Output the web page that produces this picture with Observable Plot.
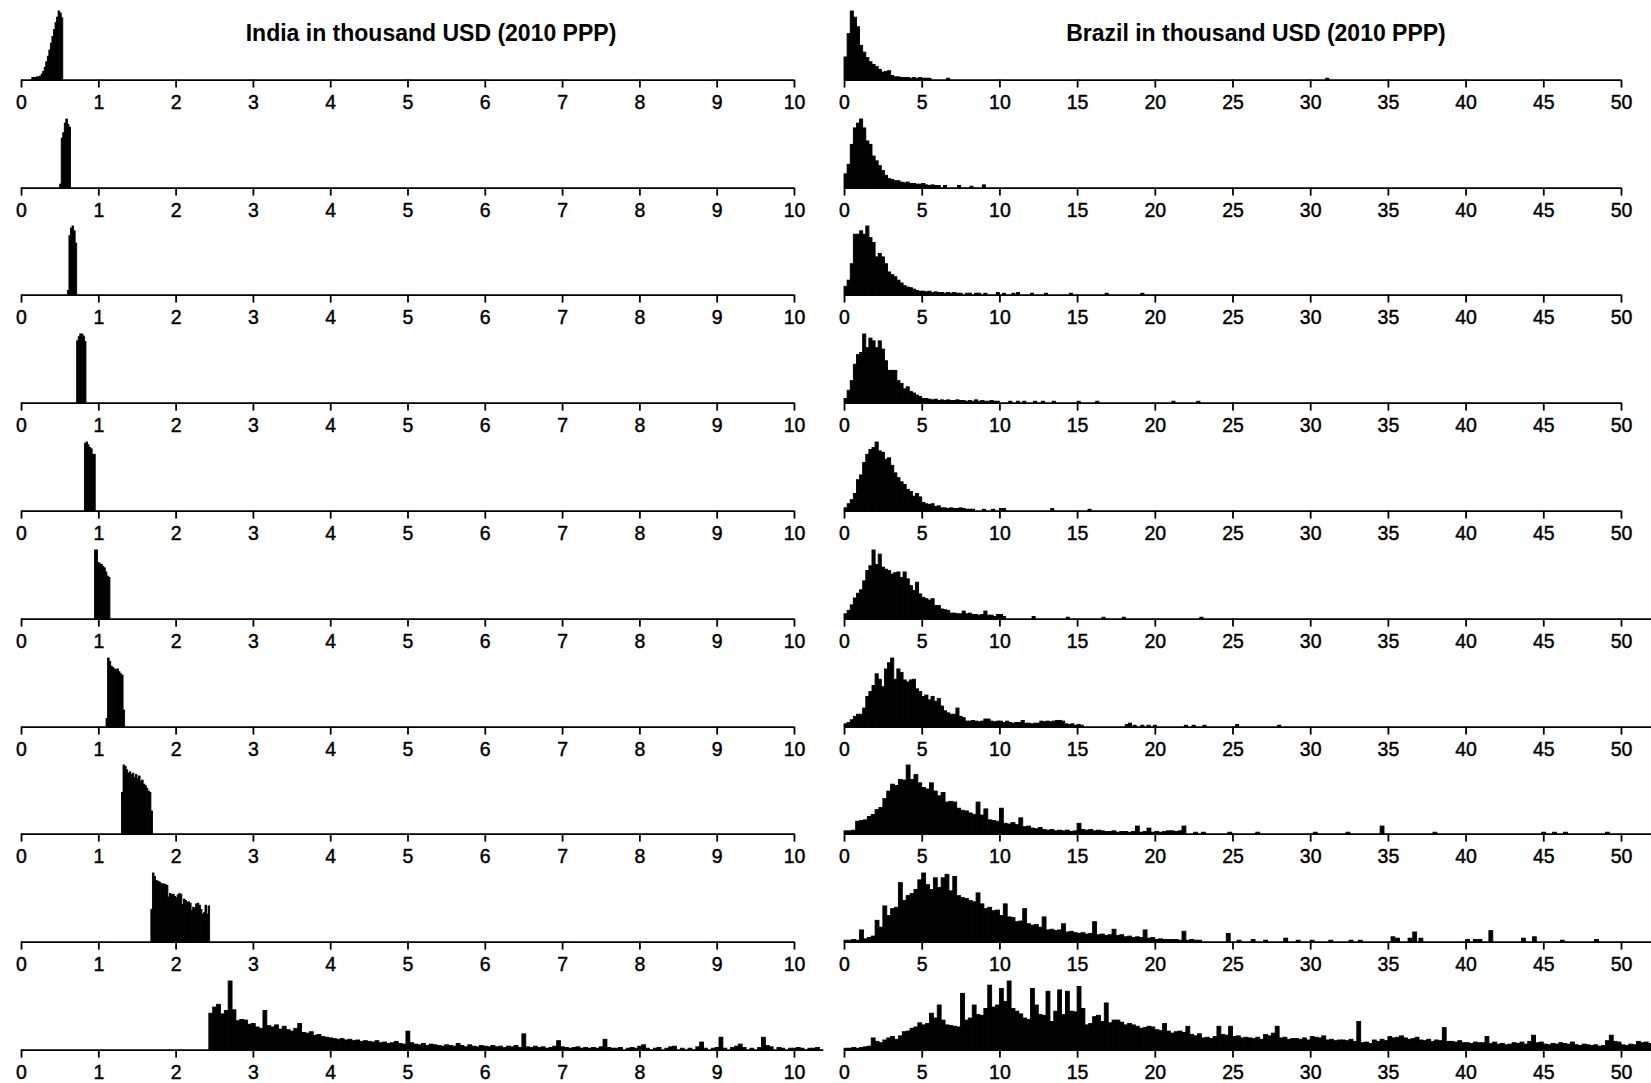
<!DOCTYPE html>
<html><head><meta charset="utf-8">
<script src="https://cdn.jsdelivr.net/npm/d3@7"></script>
<script src="https://cdn.jsdelivr.net/npm/@observablehq/plot@0.6"></script>
<style>
body{margin:0;background:#fff;}
#root{position:relative;width:1651px;height:1083px;overflow:hidden;font-family:"Liberation Sans",Arial,sans-serif;background:#fff;}
.title{position:absolute;width:600px;text-align:center;font-weight:bold;font-size:23px;line-height:23px;color:#000;white-space:nowrap;}
.panel{position:absolute;}
</style></head><body><div id="root"></div>
<script>
// ---------- text ----------
const titles = ["India in thousand USD (2010 PPP)", "Brazil in thousand USD (2010 PPP)"];
const indiaTicks = [0,1,2,3,4,5,6,7,8,9,10];
const brazilTicks = [0,5,10,15,20,25,30,35,40,45,50];

// ---------- India deciles (bar heights in % of each panel's tallest bar) ----------
const indiaStart = [0.14, 0.50, 0.60, 0.72, 0.82, 0.95, 1.10, 1.30, 1.68, 2.43];
const indiaBin = [0.02, 0.02, 0.02, 0.02, 0.02, 0.02, 0.02, 0.02, 0.02, 0.05];
const indiaLineEnd = [10, 10, 10, 10, 10, 10, 10, 10, 10, 10.38];
const india1 = [3,3,3,4,4,5,8,12,18,26,34,43,53,63,73,83,91,100,97,90];
const india2 = [5,72,80,94,100,92,88];
const india3 = [6,86,97,100,93,75];
const india4 = [90,96,100,100,97,89];
const india5 = [98,100,96,92,90,82,82];
const india6 = [100,100,82,80,79,76,74,68,62,60];
const india7 = [12,100,95,88,86,84,83,84,80,77,75,24];
const india8 = [60,100,98,93,88,90,86,88,82,86,80,84,76,78,72,70,66,62,60,33];
const india9 = [47,100,95,89,88,87,85,84,84,83,82,65,70,68,69,66,64,68,70,69,54,62,60,57,58,56,45,50,49,55,56,53,47,40,42,53,40,52];
const india10 = [53,62,66,52,57,100,58,42,44,43,37,38,33,31,57,35,33,36,30,34,29,27,31,38,25,24,26,21,22,19,18,17,16,15,16,14,15,13,14,12,13,12,11,13,10,11,9,10,12,9,8,27,10,8,7,9,6,8,7,6,5,7,6,5,9,6,4,7,5,4,6,5,4,6,4,5,3,5,4,6,3,23,4,3,5,3,4,2,3,5,13,4,3,2,3,4,2,3,2,3,2,4,15,3,2,2,3,0,2,3,2,5,7,2,0,2,3,0,2,4,5,0,2,0,2,0,4,11,2,0,2,3,18,2,0,3,5,8,3,0,2,0,3,18,6,4,0,3,2,0,2,2,3,2,0,2,2,3,0];

// ---------- Brazil deciles ----------
const brazilBin = [0.2, 0.2, 0.2, 0.2, 0.2, 0.2, 0.2, 0.25, 0.25, 0.25];
const brazilLineEnd = [50, 50, 50, 50, 50, 53, 53, 53, 53, 53];
const brazil1 = [33,67,100,91,77,50,40,32,26,22,19,15,11,12,13,6,4,4,3,3,3,2,3,2,3,2,2,2];
const brazilTail1 = [[6.6,2],[31.0,2]];
const brazil2 = [20,34,63,87,94,100,87,68,63,46,39,32,25,18,13,12,10,10,8,7,8,6,6,5,5,6,4,3,4,3,3];
const brazilTail2 = [[6.4,3],[7.3,3],[8.1,2],[8.9,4]];
const brazil3 = [12,21,45,88,88,93,88,100,83,76,55,60,55,45,33,29,26,21,17,13,11,10,8,6,5,5,4,5,3,4,3,3,2,3,2,3,2,2,0,2,2,0,2,2,0,2];
const brazilTail3 = [[9.8,3],[10.2,2],[10.8,2],[11.1,3],[12.0,2],[12.9,2],[14.5,2],[16.8,2],[19.1,2]];
const brazil4 = [6,18,32,56,70,73,100,80,94,90,80,90,78,61,47,47,47,32,28,20,23,16,14,11,9,6,6,5,4,5,3,4,3,4,3,3,4,3,3,2,3,2,4,2,3,2,2,3,2,2];
const brazilTail4 = [[10.6,2],[11.1,2],[11.5,2],[12.2,2],[12.7,2],[13.4,2],[15.0,2],[16.2,2],[21.1,2],[22.7,2]];
const brazil5 = [4,10,16,25,45,52,70,82,89,92,100,87,85,75,77,66,55,48,42,38,31,28,21,25,20,12,10,9,10,6,7,4,4,3,4,3,3,4,3,2,2,2];
const brazilTail5 = [[8.9,2],[9.5,2],[10.0,3],[10.2,3],[13.3,3],[15.7,2]];
const brazil6 = [7,12,20,30,37,42,55,70,77,100,79,94,75,72,70,65,67,68,60,68,58,48,41,53,36,31,29,27,29,19,19,14,13,12,8,8,7,7,11,7,8,6,6,5,6,11,5,5,3,6,6,3];
const brazilTail6 = [[12.1,3],[14.3,2],[16.6,2],[17.9,2],[22.9,2]];
const brazil7 = [4,6,10,15,18,18,27,44,51,60,77,69,58,84,93,100,69,84,79,68,65,68,69,55,51,44,46,39,44,37,41,30,23,20,18,18,27,15,13,8,8,9,8,7,8,11,11,8,7,8,8,6,8,6,5,6,6,9,5,5,4,5,5,8,7,8,7,8,9,9,8,4,3,4,2];
const brazilTail7 = [[15.0,3],[15.2,2],[18.1,3],[18.3,5],[18.6,2],[19.1,2],[19.5,2],[19.9,2],[21.9,2],[22.4,2],[23.1,2],[25.2,3],[27.9,2]];
const brazil8 = [4,4,5,18, 19,20,25,28, 35,38,51,62, 72,70,79,78, 100,79,86,74, 67,65,74,62, 55,60,46,47, 46,37,34,33, 30,28,46,27, 36,20,19,18, 37,15,14,16, 13,23,10,11, 8,7,9,6, 5,6,4,5, 4,5,3,4, 15,6,5,6, 4,5,4,3, 3,4,2,3, 3,2,3,11, 2,3,8,2, 3,2,3,4, 4,3,4,11];
const brazilTail8 = [[22.5,2],[23.0,2],[24.7,2],[26.5,2],[30.2,2],[32.3,2],[34.5,11],[37.9,2],[44.9,2],[45.6,2],[46.3,2],[49.0,2]];
const brazil9 = [2,2,3,2, 17,4,6,8, 31,21,52,38, 48,50,86,60, 67,70,76,90, 100,83,76,93, 79,93,98,74, 95,67,64,63, 60,58,71,55, 48,50,45,46, 38,55,36,35, 29,30,48,26, 24,25,21,36, 17,18,16,17, 26,14,15,13, 12,13,11,12, 29,10,11,9, 10,18,9,10, 7,8,6,7, 6,17,5,6, 3,4,3,3, 3,3,2,15, 2,3,2,2];
const brazilTail9 = [[24.6,12],[25.3,2],[26.2,3],[27.0,2],[28.3,5],[29.1,2],[30.0,2],[31.2,2],[32.5,2],[33.1,2],[35.2,7],[35.5,5],[36.3,5],[36.6,14],[37.0,5],[40.0,3],[40.5,3],[40.8,3],[41.5,16],[43.6,5],[44.3,7],[46.1,2],[48.3,3]];
const brazil10 = [2,2,3,2, 3,4,5,17, 12,10,14,17, 19,15,20,26, 27,31,33,39, 36,38,53,46, 65,43,36,35, 34,33,82,43, 46,65,51,50, 60,94,62,65, 89,70,100,60, 56,52,46,44, 89,65,51,50, 85,41,56,87, 51,85,56,55, 92,60,36,38, 48,50,41,68, 39,43,43,40, 36,38,36,34, 31,32,34,33, 29,28,38,27, 24,26,27,25, 34,22,20,23, 17,18,16,19, 34,22,21,34, 19,20,17,18, 17,16,18,15, 22,20,24,34, 17,18,15,16, 16,15,17,14, 19,18,17,20, 14,15,13,14, 14,13,15,12, 41,10,11,9, 14,12,15,13, 19,17,18,20, 17,15,16,18, 14,13,15,12, 14,13,32,12, 12,11,13,10, 10,9,11,10, 10,19,9,11, 8,9,7,8, 10,9,11,8, 12,21,10,11, 8,7,9,8, 10,9,8,11, 7,6,8,7, 6,7,5,6, 13,21,12,11, 7,6,8,7, 12,10,11,9];
const brazilTail10 = [];

const indiaRows = [india1,india2,india3,india4,india5,india6,india7,india8,india9,india10];
const brazilRows = [brazil1,brazil2,brazil3,brazil4,brazil5,brazil6,brazil7,brazil8,brazil9,brazil10];
const brazilTails = [brazilTail1,brazilTail2,brazilTail3,brazilTail4,brazilTail5,brazilTail6,brazilTail7,brazilTail8,brazilTail9,brazilTail10];

// ---------- layout ----------
const root = document.getElementById("root");
const AXIS0 = 79.3, ROW = 107.8, BARH = 68.6, MT = 6, MB = 34;
const FONT = '"Liberation Sans", Arial, sans-serif';

function addTitle(text, cx) {
  const d = document.createElement("div");
  d.className = "title";
  d.textContent = text;
  d.style.left = (cx - 300) + "px";
  d.style.top = "22px";
  root.appendChild(d);
}
addTitle(titles[0], 431);
addTitle(titles[1], 1256);

function panel(r, heights, tail, start, bw, lineEnd, domain, ticks, left, width, mL, mR) {
  const bars = heights.map((h, i) => ({x1: start + i * bw, x2: start + (i + 1) * bw, h}))
    .concat(tail.map(([x, h]) => ({x1: x, x2: x + bw, h})))
    .filter(d => d.h > 0);
  const svg = Plot.plot({
    width, height: MT + BARH + MB,
    marginTop: MT, marginBottom: MB, marginLeft: mL, marginRight: mR,
    x: {domain},
    y: {domain: [0, 100], axis: null},
    style: {background: "transparent", overflow: "visible", fontFamily: FONT, color: "black"},
    marks: [
      Plot.rect(bars, {x1: "x1", x2: "x2", y1: 0, y2: "h", fill: "black", stroke: "black", strokeWidth: 0.9}),
      Plot.ruleY([{a: 0, b: lineEnd}], {x1: "a", x2: "b", y: 0, stroke: "black", strokeWidth: 1.8}),
      Plot.axisX({ticks, tickSize: 8, tickPadding: 7, fontSize: 19.5, strokeWidth: 1.8, tickFormat: d => String(d), label: null, anchor: "bottom", textStroke: "black", textStrokeWidth: 0.45})
    ]
  });
  const wrap = document.createElement("div");
  wrap.className = "panel";
  wrap.style.left = left + "px";
  wrap.style.top = (AXIS0 + r * ROW - BARH - MT) + "px";
  wrap.appendChild(svg);
  root.appendChild(wrap);
}

for (let r = 0; r < 10; r++) {
  // India: 0 -> x=21, 10 -> x=794
  panel(r, indiaRows[r], [], indiaStart[r], indiaBin[r], indiaLineEnd[r], [0, 10], indiaTicks, 0, 830, 21, 36);
  // Brazil: 0 -> x=844, 50 -> x=1621
  panel(r, brazilRows[r], brazilTails[r], 0, brazilBin[r], brazilLineEnd[r], [0, 50], brazilTicks, 830, 821, 14, 30);
}
</script>
</body></html>
